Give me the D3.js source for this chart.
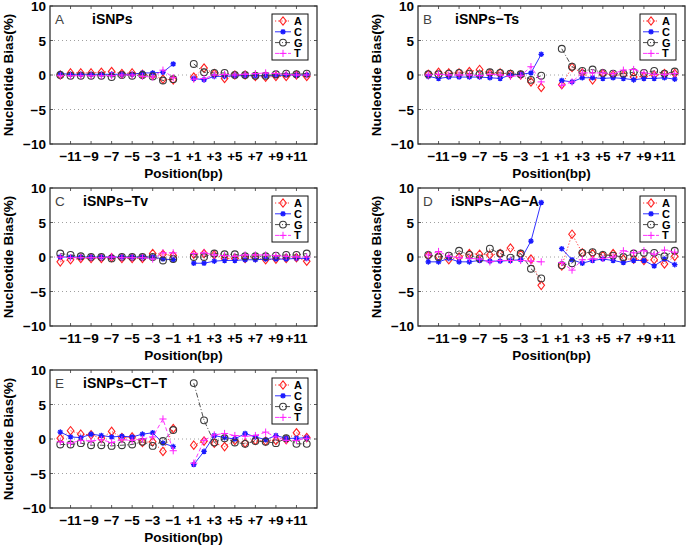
<!DOCTYPE html>
<html>
<head>
<meta charset="utf-8">
<script src="https://cdn.jsdelivr.net/npm/d3@7"></script>
<style>
  body { margin: 0; background: #fff; }
  svg { font-family: "Liberation Sans", Arial, sans-serif; }
</style>
</head>
<body>
<svg id="chart" width="688" height="546"></svg>
<script>
// positions (bp), -12..-1 then +1..+12
const positions = [-12, -11, -10, -9, -8, -7, -6, -5, -4, -3, -2, -1,
                   1, 2, 3, 4, 5, 6, 7, 8, 9, 10, 11, 12];
const xTicks = [-11, -9, -7, -5, -3, -1, 1, 3, 5, 7, 9, 11];
const xTickLabels = ["\u221211", "\u22129", "\u22127", "\u22125", "\u22123", "\u22121",
                     "+1", "+3", "+5", "+7", "+9", "+11"];
const yTicks = [-10, -5, 0, 5, 10];
const bases = ["A", "C", "G", "T"];

// A: iSNPs
const iSNPs_A = [0.0, 0.3, 0.3, 0.3, 0.4, 0.5, 0.2, 0.3, 0.1, 0.0, -0.6, -0.7,
                 -0.3, 1.0, 0.2, -0.5, 0.0, 0.0, -0.2, -0.3, -0.2, -0.2, 0.0, -0.2];
const iSNPs_C = [0.2, 0.1, 0.1, 0.1, 0.1, 0.1, 0.1, 0.1, 0.3, 0.3, 0.4, 1.6,
                 -0.5, -0.7, -0.2, -0.2, -0.1, -0.1, -0.1, -0.1, -0.1, 0.0, 0.0, 0.0];
const iSNPs_G = [0.0, -0.1, -0.1, -0.1, -0.1, -0.3, 0.0, -0.1, 0.0, -0.2, -0.8, -0.6,
                 1.6, 0.4, 0.3, 0.3, 0.0, 0.0, -0.1, -0.1, 0.1, 0.2, 0.1, 0.2];
const iSNPs_T = [-0.1, -0.1, -0.1, -0.1, -0.1, -0.1, 0.0, 0.0, -0.2, -0.3, 0.7, -0.4,
                 -0.6, -0.5, 0.0, 0.1, 0.0, 0.1, 0.2, 0.3, 0.2, 0.1, 0.0, 0.0];

// B: iSNPs-Ts
const ts_A = [0.1, 0.4, 0.3, 0.3, 0.5, 0.8, 0.2, 0.3, 0.1, 0.0, -1.0, -1.8,
              -1.4, 1.1, 0.3, -0.7, 0.2, 0.0, 0.0, -0.3, -0.2, 0.0, 0.2, 0.2];
const ts_C = [-0.2, -0.5, -0.3, -0.3, -0.3, -0.3, -0.4, -0.5, 0.0, 0.1, 0.3, 3.0,
              -0.8, -1.0, -0.4, -0.4, -0.5, -0.4, -0.5, -0.7, -0.5, -0.5, -0.4, -0.6];
const ts_G = [0.1, 0.1, 0.2, 0.3, 0.2, 0.1, 0.4, 0.3, 0.2, 0.1, -0.7, -0.1,
              3.8, 1.2, 0.6, 0.8, 0.3, 0.2, 0.2, 0.4, 0.3, 0.6, 0.2, 0.5];
const ts_T = [0.0, 0.1, 0.0, 0.0, 0.0, -0.1, 0.1, 0.0, -0.2, -0.1, 1.2, -1.0,
              -1.5, -1.0, 0.3, 0.3, 0.3, 0.2, 0.7, 0.8, 0.3, 0.1, 0.1, 0.2];

// C: iSNPs-Tv
const tv_A = [-0.7, -0.4, -0.2, -0.2, -0.2, -0.1, -0.2, -0.2, -0.2, 0.5, 0.4, 0.2,
              0.4, 0.5, 0.3, -0.2, -0.2, -0.2, -0.1, -0.4, -0.3, -0.2, -0.1, -0.6];
const tv_C = [0.0, 0.0, 0.0, 0.0, 0.0, 0.0, 0.0, 0.0, 0.0, 0.0, -0.3, -0.4,
              -0.9, -0.9, -0.6, -0.5, -0.5, -0.4, -0.4, -0.3, -0.3, -0.3, -0.2, -0.2];
const tv_G = [0.5, 0.3, 0.1, 0.0, 0.0, -0.2, 0.0, 0.0, 0.0, 0.0, -0.5, -0.3,
              0.0, 0.0, 0.5, 0.4, 0.4, 0.1, 0.1, 0.1, 0.2, 0.3, 0.3, 0.5];
const tv_T = [0.0, -0.1, -0.1, -0.1, -0.1, 0.0, -0.1, -0.1, -0.1, -0.3, 0.6, 0.6,
              0.5, 0.6, 0.3, 0.2, 0.1, 0.3, 0.3, 0.3, 0.2, 0.1, 0.0, 0.0];

// D: iSNPs-AG-A
const ag_A = [0.2, 0.1, -0.4, 0.0, 0.5, 0.4, 0.3, 0.5, 1.3, 0.4, -0.3, -4.1,
              -1.3, 3.3, 0.6, 0.5, 0.2, 0.5, -0.3, -0.3, -0.5, -0.4, -1.0, 0.1];
const ag_C = [-0.7, -0.7, -0.2, -0.7, -0.7, -0.5, -0.6, -0.6, -0.5, -0.4, 2.3, 7.9,
              1.2, -0.4, -0.9, -0.5, -0.3, -0.5, -0.8, -0.5, -0.5, -1.3, -0.3, -1.1];
const ag_G = [0.3, 0.0, 0.2, 0.9, 0.3, -0.2, 1.2, 0.5, -0.1, 0.5, -1.7, -3.1,
              -1.2, -0.9, 0.6, 0.7, 0.3, 0.2, 0.0, 0.5, 0.6, 0.6, 0.1, 0.9];
const ag_T = [0.3, 0.8, 0.1, -0.1, -0.2, -0.3, -0.7, -0.5, -0.5, -0.5, -0.6, -0.7,
              -0.8, -1.9, -0.4, -0.3, -0.2, 0.0, 0.9, 0.6, 0.9, 0.4, 1.0, 0.7];

// E: iSNPs-CT-T
const ct_A = [0.1, 1.2, 0.7, 0.6, 0.1, 1.1, 0.2, 0.3, -0.5, -0.4, -1.8, 1.5,
              -0.9, -0.3, -0.6, -1.1, -0.2, -0.6, -0.2, -0.3, -0.2, -0.1, 0.9, 0.2];
const ct_C = [1.0, 0.3, 0.2, 0.7, 0.5, 0.3, 0.4, 0.3, 0.7, 0.9, -0.6, -1.1,
              -3.7, -1.8, 0.5, 0.2, 0.0, 0.8, 0.3, -0.1, 0.5, 0.1, 0.1, 0.2];
const ct_G = [-0.8, -0.8, -0.6, -0.9, -0.9, -1.0, -0.9, -0.8, -0.4, -1.0, -0.3, 1.3,
              8.1, 2.7, -0.5, 0.1, -0.5, -0.7, -0.3, -0.4, -0.6, 0.1, -0.7, -0.7];
const ct_T = [-0.4, -0.6, -0.2, -0.3, -0.1, -0.5, -0.1, -0.2, 0.0, 0.3, 2.9, -1.7,
              -3.5, -0.2, 0.6, 0.8, 0.5, 0.4, 0.5, 1.0, 0.3, -0.2, -0.2, 0.1];

const panels = [
  {letter: "A", title: "iSNPs",         left: 50,  top: 6,   titleDx: 42, series: [iSNPs_A, iSNPs_C, iSNPs_G, iSNPs_T]},
  {letter: "B", title: "iSNPs\u2212Ts", left: 418, top: 6,   titleDx: 37, series: [ts_A, ts_C, ts_G, ts_T]},
  {letter: "C", title: "iSNPs\u2212Tv", left: 50,  top: 188, titleDx: 33, series: [tv_A, tv_C, tv_G, tv_T]},
  {letter: "D", title: "iSNPs\u2212AG\u2212A", left: 418, top: 188, titleDx: 33, series: [ag_A, ag_C, ag_G, ag_T]},
  {letter: "E", title: "iSNPs\u2212CT\u2212T", left: 50,  top: 370, titleDx: 33, series: [ct_A, ct_C, ct_G, ct_T]}
];

const W = 267, H = 138;
const styles = {
  A: {color: "#ff2020", dash: "1.2,2"},
  C: {color: "#1a1aff", dash: null},
  G: {color: "#3a3a3a", dash: "5,2,1,2"},
  T: {color: "#ff20ff", dash: "4,2.5"}
};

function drawMarker(g, base, cx, cy) {
  const c = styles[base].color;
  if (base === "A") {
    g.append("path").attr("d", `M${cx},${cy - 4.2}L${cx + 3.3},${cy}L${cx},${cy + 4.2}L${cx - 3.3},${cy}Z`)
      .attr("fill", "none").attr("stroke", c).attr("stroke-width", 1.1);
  } else if (base === "C") {
    const r = 2.8, d = 2;
    g.append("path")
      .attr("d", `M${cx - r},${cy}H${cx + r}M${cx},${cy - r}V${cy + r}M${cx - d},${cy - d}L${cx + d},${cy + d}M${cx - d},${cy + d}L${cx + d},${cy - d}`)
      .attr("stroke", c).attr("stroke-width", 1.3);
    g.append("circle").attr("cx", cx).attr("cy", cy).attr("r", 1.6).attr("fill", c);
  } else if (base === "G") {
    g.append("circle").attr("cx", cx).attr("cy", cy).attr("r", 3.4)
      .attr("fill", "none").attr("stroke", c).attr("stroke-width", 1.1);
  } else {
    const r = 3.6;
    g.append("path").attr("d", `M${cx - r},${cy}H${cx + r}M${cx},${cy - r}V${cy + r}`)
      .attr("stroke", c).attr("stroke-width", 1);
  }
}

const svg = d3.select("#chart");

panels.forEach(p => {
  const x = d3.scaleLinear().domain([-13, 13]).range([p.left, p.left + W]);
  const y = d3.scaleLinear().domain([-10, 10]).range([p.top + H, p.top]);
  const g = svg.append("g").attr("class", "panel");

  // dotted grid
  g.selectAll("line.grid").data([-5, 0, 5]).join("line")
    .attr("x1", p.left).attr("x2", p.left + W)
    .attr("y1", d => y(d)).attr("y2", d => y(d))
    .attr("stroke", "#888").attr("stroke-width", 0.8).attr("stroke-dasharray", "1,3");

  // series, broken at the gap between -1 and +1
  const line = d3.line().x(d => x(d[0])).y(d => y(d[1]));
  p.series.forEach((vals, i) => {
    const base = bases[i];
    const st = styles[base];
    const pts = positions.map((pos, j) => [pos, vals[j]]);
    [pts.filter(d => d[0] < 0), pts.filter(d => d[0] > 0)].forEach(seg => {
      g.append("path").attr("d", line(seg)).attr("fill", "none")
        .attr("stroke", st.color).attr("stroke-width", 0.9)
        .attr("stroke-dasharray", st.dash);
    });
    const mg = g.append("g");
    pts.forEach(d => drawMarker(mg, base, x(d[0]), y(d[1])));
  });

  // frame
  g.append("rect").attr("x", p.left).attr("y", p.top).attr("width", W).attr("height", H)
    .attr("fill", "none").attr("stroke", "#333").attr("stroke-width", 1.3);

  // ticks inside on all sides
  xTicks.forEach(t => {
    g.append("line").attr("x1", x(t)).attr("x2", x(t)).attr("y1", p.top + H).attr("y2", p.top + H - 3)
      .attr("stroke", "#333").attr("stroke-width", 0.8);
    g.append("line").attr("x1", x(t)).attr("x2", x(t)).attr("y1", p.top).attr("y2", p.top + 3)
      .attr("stroke", "#333").attr("stroke-width", 0.8);
  });
  yTicks.forEach(t => {
    g.append("line").attr("x1", p.left).attr("x2", p.left + 3).attr("y1", y(t)).attr("y2", y(t))
      .attr("stroke", "#333").attr("stroke-width", 0.8);
    g.append("line").attr("x1", p.left + W).attr("x2", p.left + W - 3).attr("y1", y(t)).attr("y2", y(t))
      .attr("stroke", "#333").attr("stroke-width", 0.8);
  });

  // tick labels
  g.selectAll("text.xt").data(xTicks).join("text")
    .attr("x", d => x(d)).attr("y", p.top + H + 17)
    .attr("text-anchor", "middle").attr("font-size", 13.5).attr("font-weight", "bold")
    .text((d, i) => xTickLabels[i]);
  g.selectAll("text.yt").data(yTicks).join("text")
    .attr("x", p.left - 4).attr("y", d => y(d) + 5)
    .attr("text-anchor", "end").attr("font-size", 13.5).attr("font-weight", "bold")
    .text(d => d < 0 ? "\u2212" + Math.abs(d) : d);

  // axis titles
  g.append("text").attr("x", p.left + W / 2).attr("y", p.top + H + 34)
    .attr("text-anchor", "middle").attr("font-size", 13.5).attr("font-weight", "bold")
    .text("Position(bp)");
  g.append("text")
    .attr("transform", `translate(${p.left - 37},${p.top + H / 2}) rotate(-90)`)
    .attr("text-anchor", "middle").attr("font-size", 13.5).attr("font-weight", "bold")
    .text("Nucleotide Bias(%)");

  // panel letter + title
  g.append("text").attr("x", p.left + 5).attr("y", p.top + 18)
    .attr("font-size", 13.5).attr("fill", "#444").text(p.letter);
  g.append("text").attr("x", p.left + p.titleDx).attr("y", p.top + 18)
    .attr("font-size", 14).attr("font-weight", "bold").text(p.title);

  // legend
  const lx = p.left + W - 45, ly = p.top + 8;
  const lg = g.append("g");
  lg.append("rect").attr("x", lx).attr("y", ly).attr("width", 36).attr("height", 46)
    .attr("fill", "#fff").attr("stroke", "#111").attr("stroke-width", 1);
  bases.forEach((b, i) => {
    const yy = ly + 7 + i * 10.8;
    lg.append("line").attr("x1", lx + 3).attr("x2", lx + 19).attr("y1", yy).attr("y2", yy)
      .attr("stroke", styles[b].color).attr("stroke-width", 0.9)
      .attr("stroke-dasharray", styles[b].dash);
    drawMarker(lg, b, lx + 11, yy);
    lg.append("text").attr("x", lx + 22).attr("y", yy + 4)
      .attr("font-size", 11).attr("font-weight", "bold").text(b);
  });
});
</script>
</body>
</html>
